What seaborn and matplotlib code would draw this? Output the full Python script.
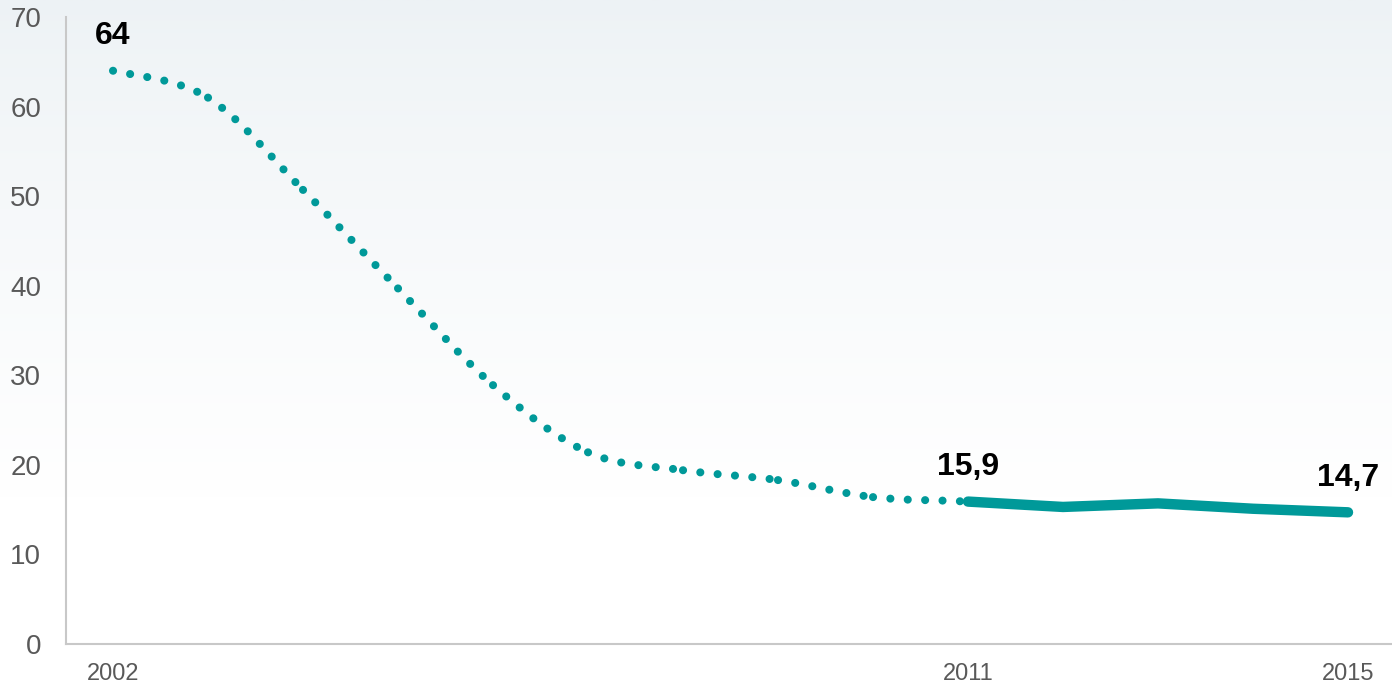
import numpy as np
import pandas as pd
import matplotlib
matplotlib.use("Agg")
import matplotlib.pyplot as plt
from matplotlib.path import Path
from matplotlib.patches import PathPatch
import seaborn as sns

# ---- data ----
years = [2002, 2003, 2004, 2005, 2006, 2007, 2008, 2009, 2010, 2011, 2012, 2013, 2014, 2015]
values = [64.0, 61.0, 50.7, 39.7, 28.9, 21.4, 19.4, 18.3, 16.4, 15.9, 15.3, 15.7, 15.1, 14.7]
split_year = 2011                      # dotted before, solid after
labelled_years = [2002, 2011, 2015]
labelled_texts = ["64", "15,9", "14,7"]
x_ticks = [2002, 2011, 2015]
x_ticklabels = ["2002", "2011", "2015"]
y_ticks = [0, 10, 20, 30, 40, 50, 60, 70]

TEAL = "#009999"
GREY = "#595959"

sns.set_theme(style="white")
plt.rcParams["font.family"] = ["Liberation Sans", "DejaVu Sans"]

fig = plt.figure(figsize=(13.92, 6.90), dpi=100)
fig.patch.set_facecolor("white")

# background gradient over the whole figure
bg = fig.add_axes([0, 0, 1, 1], zorder=-10)
n = 256
t = np.linspace(0, 1, n)[:, None]          # 0 = top, 1 = bottom
top = np.array([237, 242, 245]) / 255.0
frac = np.clip(t / 0.72, 0, 1) ** 0.8
grad = top[None, None, :] * (1 - frac[..., None]) + np.ones(3)[None, None, :] * frac[..., None]
grad = np.repeat(grad, 2, axis=1)
bg.imshow(grad, aspect="auto", extent=[0, 1, 0, 1], interpolation="bilinear")
bg.axis("off")

ax = fig.add_axes([66 / 1392, 46 / 690, 1 - 66 / 1392, (644 - 17) / 690])
ax.set_facecolor("none")

df = pd.DataFrame({"year": years, "value": values})
xs = np.array(years, dtype=float)
ys = np.array(values, dtype=float)
N = len(xs)

# dotted, smoothed part (one Bezier per year, drawn separately)
for i in range(N - 1):
    if xs[i] >= split_year:
        break
    p0 = np.array([xs[max(i - 1, 0)], ys[max(i - 1, 0)]])
    p1 = np.array([xs[i], ys[i]])
    p2 = np.array([xs[i + 1], ys[i + 1]])
    p3 = np.array([xs[min(i + 2, N - 1)], ys[min(i + 2, N - 1)]])
    c1 = p1 + (p2 - p0) / 6.0
    c2 = p2 - (p3 - p1) / 6.0
    path = Path([p1, c1, c2, p2], [Path.MOVETO, Path.CURVE4, Path.CURVE4, Path.CURVE4])
    patch = PathPatch(path, fill=False, edgecolor=TEAL, linewidth=5.8,
                      linestyle=(0, (0.01, 2.15)), capstyle="round", zorder=3)
    ax.add_patch(patch)

# solid part
solid = df[df["year"] >= split_year]
sns.lineplot(data=solid, x="year", y="value", ax=ax, color=TEAL, linewidth=7.5,
             solid_capstyle="round", solid_joinstyle="round", zorder=4)

# value labels
for yr, txt in zip(labelled_years, labelled_texts):
    v = df.loc[df["year"] == yr, "value"].iloc[0]
    ax.annotate(txt, xy=(yr, v), xytext=(0, 25), textcoords="offset points",
                ha="center", va="center", fontsize=23, fontweight="bold", color="black")

ax.set_xlim(2002 - 47 / 95, 2015 + 44 / 95)
ax.set_ylim(0, 70)
ax.set_xticks(x_ticks)
ax.set_xticklabels(x_ticklabels)
ax.set_yticks(y_ticks)
ax.tick_params(axis="y", length=0, pad=18, labelsize=20, labelcolor=GREY)
ax.tick_params(axis="x", length=0, pad=14, labelsize=17, labelcolor=GREY)
ax.set_xlabel("")
ax.set_ylabel("")
ax.grid(False)
for s in ["top", "right"]:
    ax.spines[s].set_visible(False)
for s in ["left", "bottom"]:
    ax.spines[s].set_color("#C8C8C8")
    ax.spines[s].set_linewidth(1.5)

fig.savefig("out.png", dpi=100)
